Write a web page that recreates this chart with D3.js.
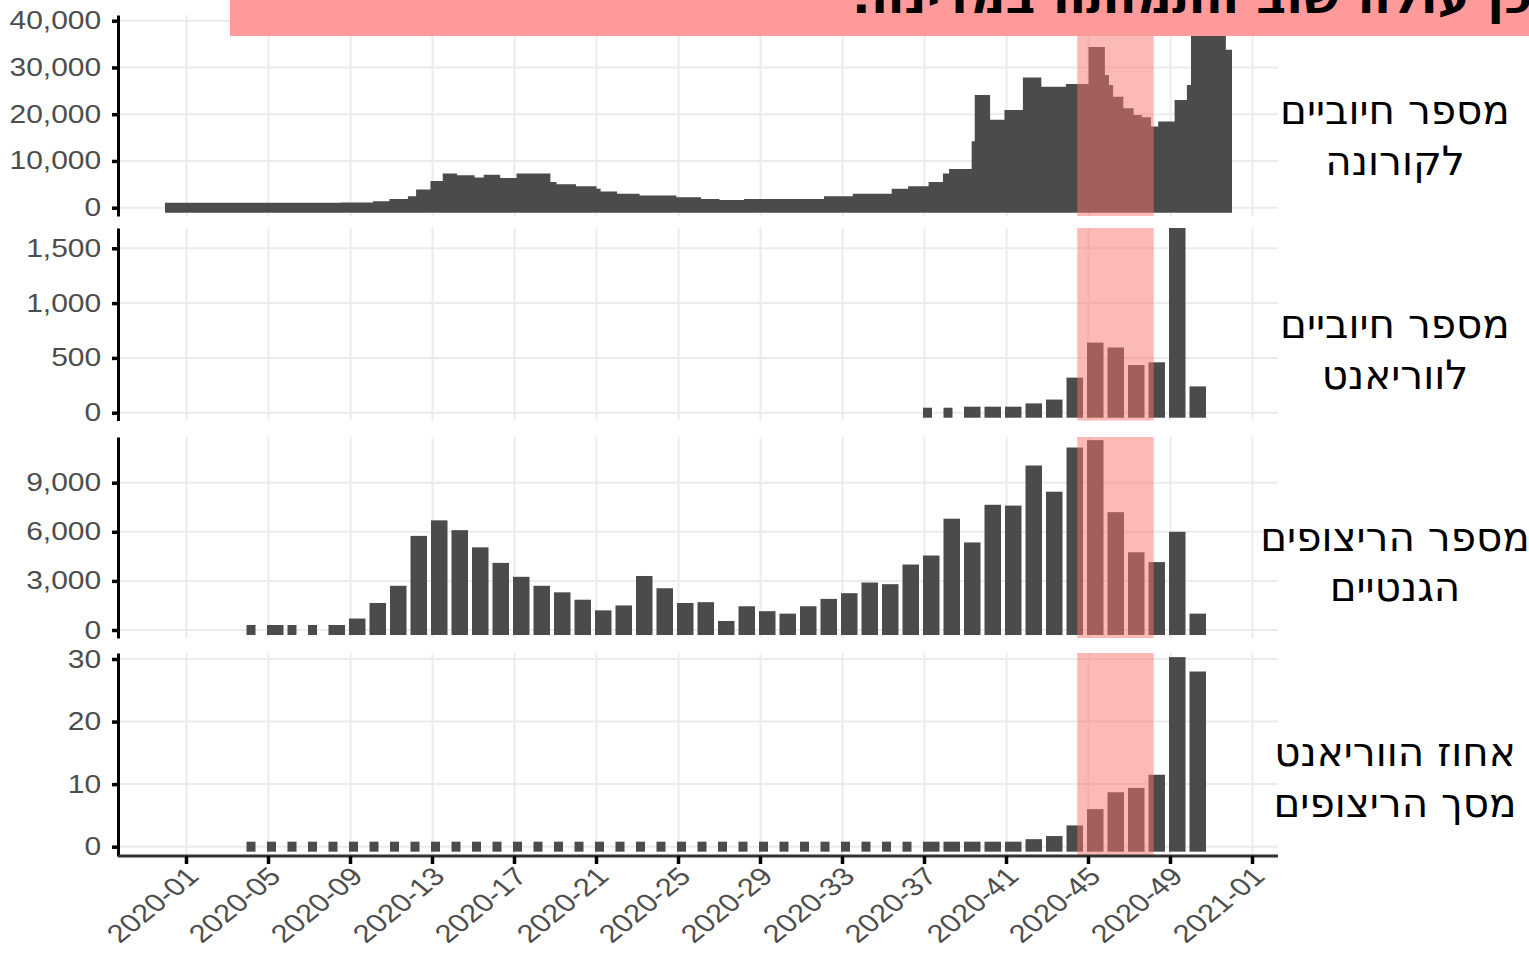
<!DOCTYPE html>
<html>
<head>
<meta charset="utf-8">
<script src="https://cdn.jsdelivr.net/npm/d3@7"></script>
<style>
body { margin: 0; background: #fff; }
svg { display: block; }
</style>
</head>
<body>
<div id="chart"></div>
<script>
// week index: 2020-01 = 1 ... 2021-01 = 53
var weekTicks = [1, 5, 9, 13, 17, 21, 25, 29, 33, 37, 41, 45, 49, 53];
var weekTickLabels = ["2020-01", "2020-05", "2020-09", "2020-13", "2020-17", "2020-21", "2020-25",
    "2020-29", "2020-33", "2020-37", "2020-41", "2020-45", "2020-49", "2021-01"];

// positives (step profile), week position where each step starts
var casesWeek = [-0.05, 8.5, 10.1, 10.9, 11.8, 12.2, 12.9, 13.5, 14.2, 15.05, 15.5, 16.3, 17.1, 18.75,
    19.05, 20.0, 21.0, 21.2, 22.0, 23.1, 24.9, 26.1, 27.0, 28.2, 32.1, 33.5, 35.4, 36.2, 37.2, 37.9,
    38.2, 39.3, 39.45, 40.2, 40.9, 41.8, 42.7, 43.9, 45.0, 45.8, 46.0, 46.2, 46.7, 47.2, 47.6, 48.05,
    48.4, 49.2, 49.8, 50.0, 51.7, 52.0];
var casesValue = [300, 1100, 1380, 1880, 2460, 3910, 5720, 7320, 6960, 6450, 7030, 6380, 7320, 5500,
    5000, 4570, 4060, 3480, 2970, 2610, 2250, 1880, 1670, 1880, 2460, 2970, 4060, 4570, 5500, 7320,
    8260, 14200, 24100, 18790, 20900, 27860, 25880, 26450, 34390, 28360, 26230, 23750, 21270, 19850, 19360, 17370,
    18430, 23040, 26230, 39500, 33800, 33800];

// variant positives
var variantWeeks = d3.range(37, 51);
var variantCount = [0, 0, 55, 55, 55, 85, 120, 320, 640, 595, 435, 460, 1750, 240];

// genetic sequences
var seqWeeks = d3.range(4, 51);
var seqCount = [0, 250, 0, 0, 300, 700, 1650, 2700, 5750, 6700, 6100, 5050, 4100, 3250, 2700, 2300,
    1850, 1200, 1500, 3300, 2550, 1650, 1700, 550, 1450, 1150, 1000, 1450, 1900, 2250, 2900, 2800,
    4000, 4550, 6800, 5350, 7650, 7600, 10050, 8450, 11150, 11600, 7200, 4750, 4150, 6000, 1000];

// variant share of sequences (%)
var shareWeeks = d3.range(4, 51);
var sharePct = [0, 0, 0, 0, 0, 0, 0, 0, 0, 0, 0, 0, 0, 0, 0, 0, 0, 0, 0, 0, 0, 0, 0, 0, 0, 0, 0, 0, 0, 0,
    0, 0, 0, 0.3, 0.3, 0.4, 0.4, 0.4, 1.2, 1.7, 3.4, 6.0, 8.7, 9.4, 11.5, 30.3, 28.0];

// highlighted period
var highlightWeeks = [44.45, 48.18];

var panelLabels = [
    ["מספר חיוביים", "לקורונה"],
    ["מספר חיוביים", "לווריאנט"],
    ["מספר הריצופים", "הגנטיים"],
    ["אחוז הווריאנט", "מסך הריצופים"]
];
var titleText = "כן עולה שוב התמותה במדינה.";

var width = 1529, height = 954;
var plotLeft = 118, plotRight = 1278;
var barColor = "#4b4b4b";
var pad = 5; // minimum visual thickness around baseline

var x = d3.scaleLinear().domain([1, 53]).range([186.5, 1252.5]);

var panels = [
    {top: 15, bottom: 216, domain: [-1775, 41220], ticks: [0, 10000, 20000, 30000, 40000], label: [124, 175]},
    {top: 228, bottom: 420.5, domain: [-71, 1685], ticks: [0, 500, 1000, 1500], label: [338, 389]},
    {top: 437, bottom: 638, domain: [-489, 11792], ticks: [0, 3000, 6000, 9000], label: [551, 601]},
    {top: 653, bottom: 856, domain: [-1.49, 30.96], ticks: [0, 10, 20, 30], label: [766, 817]}
];
var barSeries = [null,
    {weeks: variantWeeks, values: variantCount},
    {weeks: seqWeeks, values: seqCount},
    {weeks: shareWeeks, values: sharePct}];

var svg = d3.select("#chart").append("svg")
    .attr("width", width)
    .attr("height", height);

panels.forEach(function(p, i) {
    var y = d3.scaleLinear().domain(p.domain).range([p.bottom, p.top]);
    var g = svg.append("g").attr("class", "panel" + i);

    g.append("clipPath").attr("id", "clip" + i)
        .append("rect")
        .attr("x", plotLeft).attr("y", p.top)
        .attr("width", plotRight - plotLeft).attr("height", p.bottom - p.top);

    // grid
    g.selectAll("line.hgrid").data(p.ticks).enter().append("line")
        .attr("x1", plotLeft).attr("x2", plotRight)
        .attr("y1", function(d) { return y(d); }).attr("y2", function(d) { return y(d); })
        .attr("stroke", "#ebebeb").attr("stroke-width", 2);
    g.selectAll("line.vgrid").data(weekTicks).enter().append("line")
        .attr("x1", function(d) { return x(d); }).attr("x2", function(d) { return x(d); })
        .attr("y1", p.top).attr("y2", p.bottom)
        .attr("stroke", "#ebebeb").attr("stroke-width", 2);

    var marks = g.append("g").attr("clip-path", "url(#clip" + i + ")");
    var y0 = y(0);

    if (i == 0) {
        var pts = casesWeek.map(function(w, k) { return {w: w, v: casesValue[k]}; });
        var area = d3.area()
            .curve(d3.curveStepAfter)
            .x(function(d) { return x(d.w); })
            .y0(y0 + pad)
            .y1(function(d) { return Math.min(y(d.v), y0 - pad); });
        marks.append("path").datum(pts)
            .attr("d", area)
            .attr("fill", barColor);
    } else {
        var s = barSeries[i];
        var bars = s.weeks.map(function(w, k) { return {w: w, v: s.values[k]}; });
        marks.selectAll("rect.bar").data(bars).enter().append("rect")
            .attr("x", function(d) { return x(d.w) - 1.5; })
            .attr("width", function(d) { return d.v === 0 ? 9 : 16.5; })
            .attr("y", function(d) { return Math.min(y(d.v), y0 - pad); })
            .attr("height", function(d) { return y0 + pad - Math.min(y(d.v), y0 - pad); })
            .attr("fill", barColor);
    }

    // highlighted period
    g.append("rect")
        .attr("x", x(highlightWeeks[0]))
        .attr("width", x(highlightWeeks[1]) - x(highlightWeeks[0]))
        .attr("y", p.top).attr("height", p.bottom - p.top)
        .attr("fill", "#F8766D").attr("fill-opacity", 0.5);

    // y axis
    var axis = g.append("g")
        .attr("transform", "translate(" + plotLeft + ",0)")
        .call(d3.axisLeft(y).tickValues(p.ticks).tickSize(6).tickSizeOuter(0).tickPadding(8)
            .tickFormat(d3.format(",")));
    axis.select(".domain").attr("stroke", "#000").attr("stroke-width", 3);
    axis.selectAll(".tick line").attr("stroke", "#000").attr("stroke-width", 3.5);
    axis.selectAll(".tick text")
        .attr("transform", "scale(1.2,1)")
        .attr("fill", "#4d4d4d")
        .style("font-family", "'Liberation Sans', Arial, sans-serif")
        .style("font-size", "25px");

    // right-hand label
    g.selectAll("text.plabel").data(panelLabels[i]).enter().append("text")
        .attr("x", 1395)
        .attr("y", function(d, k) { return p.label[k]; })
        .attr("text-anchor", "middle")
        .style("font-family", "'DejaVu Sans', sans-serif")
        .style("font-size", "40.5px")
        .attr("fill", "#000")
        .text(function(d) { return d; });
});

// x axis under the last panel
var axisY = panels[3].bottom;
var xa = svg.append("g");
xa.append("line")
    .attr("x1", plotLeft).attr("x2", plotRight)
    .attr("y1", axisY).attr("y2", axisY)
    .attr("stroke", "#333").attr("stroke-width", 3);
xa.selectAll("line.tick").data(weekTicks).enter().append("line")
    .attr("x1", function(d) { return x(d); }).attr("x2", function(d) { return x(d); })
    .attr("y1", axisY).attr("y2", axisY + 8)
    .attr("stroke", "#000").attr("stroke-width", 3.5);
xa.selectAll("text").data(weekTicks).enter().append("text")
    .attr("transform", function(d) {
        return "translate(" + (x(d) + 14) + "," + (axisY + 22) + ") scale(1.22,1) rotate(-45)";
    })
    .attr("text-anchor", "end")
    .attr("fill", "#4d4d4d")
    .style("font-family", "'Liberation Sans', Arial, sans-serif")
    .style("font-size", "25.5px")
    .text(function(d, k) { return weekTickLabels[k]; });

// title banner (cut at the top of the picture, as in the source)
svg.append("rect")
    .attr("x", 230).attr("y", 0)
    .attr("width", width - 230).attr("height", 36)
    .attr("fill", "#ff9a9a");
svg.append("text")
    .attr("x", 1532).attr("y", 13)
    .attr("direction", "rtl")
    .attr("text-anchor", "start")
    .attr("textLength", 680)
    .attr("lengthAdjust", "spacingAndGlyphs")
    .style("font-family", "'DejaVu Sans', sans-serif")
    .style("font-weight", "bold")
    .style("font-size", "44px")
    .attr("fill", "#000")
    .text(titleText);
</script>
</body>
</html>
